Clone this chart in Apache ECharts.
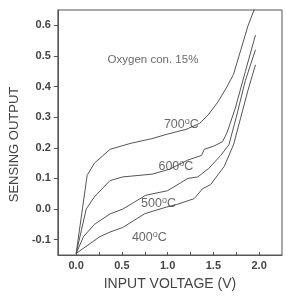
<!DOCTYPE html>
<html>
<head>
<meta charset="utf-8">
<script src="https://cdn.jsdelivr.net/npm/echarts@6/dist/echarts.min.js"></script>
<style>
  html, body { margin: 0; padding: 0; background: #fff; }
  #chart { width: 286px; height: 296px; }
</style>
</head>
<body>
<div id="chart"></div>
<script>
// sensing output vs input voltage
const curve700 = [[0, -0.145], [0.12, 0.11], [0.2, 0.15], [0.37, 0.195], [0.6, 0.215], [0.83, 0.23], [1.0, 0.245], [1.2, 0.26], [1.35, 0.28], [1.45, 0.31], [1.55, 0.35], [1.65, 0.40], [1.72, 0.44], [1.8, 0.52], [1.88, 0.6], [1.97, 0.67]]
const curve600 = [[0, -0.145], [0.11, 0.0], [0.2, 0.04], [0.37, 0.093], [0.51, 0.105], [0.83, 0.114], [1.02, 0.13], [1.22, 0.16], [1.37, 0.175], [1.4, 0.195], [1.5, 0.205], [1.6, 0.22], [1.65, 0.25], [1.74, 0.33], [1.85, 0.45], [1.96, 0.568]]
const curve500 = [[0, -0.145], [0.08, -0.09], [0.2, -0.05], [0.37, -0.016], [0.51, 0.0], [0.76, 0.045], [1.0, 0.06], [1.22, 0.1], [1.33, 0.105], [1.45, 0.133], [1.58, 0.175], [1.67, 0.21], [1.75, 0.3], [1.85, 0.42], [1.96, 0.52]]
const curve400 = [[0, -0.145], [0.07, -0.13], [0.26, -0.09], [0.37, -0.075], [0.51, -0.06], [0.75, -0.015], [0.97, 0.005], [1.1, 0.015], [1.29, 0.034], [1.38, 0.066], [1.47, 0.08], [1.62, 0.14], [1.72, 0.21], [1.8, 0.3], [1.88, 0.39], [1.96, 0.471]]

const seriesNames = ['700', '600', '500', '400']
const seriesData = [curve700, curve600, curve500, curve400]
// where the temperature labels sit, in data units
const labelPos = [[1.15, 0.275], [1.09, 0.14], [0.9, 0.018], [0.8, -0.092]]

const xTicks = [0, 0.5, 1.0, 1.5, 2.0]
const xMinorTicks = [0, 0.25, 0.5, 0.75, 1.0, 1.25, 1.5, 1.75, 2.0]
const yTicks = [-0.1, 0, 0.1, 0.2, 0.3, 0.4, 0.5, 0.6]

const noteText = 'Oxygen con. 15%'
const notePos = [0.84, 0.486]

const ink = '#444'
const font = 'Liberation Sans, Arial, sans-serif'

const chart = echarts.init(document.getElementById('chart'), null, { renderer: 'canvas' })

function textSeries(pos, text, size) {
  return {
    type: 'scatter',
    data: [pos],
    symbolSize: 1,
    itemStyle: { color: 'rgba(0,0,0,0)' },
    silent: true,
    z: 5,
    label: {
      show: true,
      position: 'inside',
      formatter: text,
      color: ink,
      fontFamily: font,
      fontSize: size,
      rich: {
        sup: { fontSize: 9, verticalAlign: 'top', color: ink, fontFamily: font, padding: [0, 0, 6, 0] }
      }
    }
  }
}

const series = seriesNames.map((n, i) => ({
  name: n,
  type: 'line',
  data: seriesData[i],
  symbol: 'none',
  clip: true,
  lineStyle: { color: '#555', width: 1 }
}))
seriesNames.forEach((n, i) => series.push(textSeries(labelPos[i], n + '{sup|o}C', 12.5)))
series.push(textSeries(notePos, noteText, 11.5))

chart.setOption({
  animation: false,
  grid: {
    left: 54,
    right: 4,
    top: 10,
    bottom: 39,
    show: true,
    borderColor: '#555',
    borderWidth: 1
  },
  xAxis: {
    type: 'value',
    min: -0.2,
    max: 2.25,
    name: 'INPUT VOLTAGE (V)',
    nameLocation: 'middle',
    nameGap: 22,
    nameTextStyle: { fontSize: 14, color: ink, fontFamily: font },
    axisLine: { onZero: false, lineStyle: { color: '#555' } },
    axisTick: { inside: true, length: 3, customValues: xMinorTicks, lineStyle: { color: '#555' } },
    axisLabel: {
      customValues: xTicks,
      margin: 5,
      color: ink,
      fontSize: 11,
      fontWeight: 'bold',
      fontFamily: font,
      formatter: v => v.toFixed(1)
    },
    splitLine: { show: false }
  },
  yAxis: {
    type: 'value',
    min: -0.15,
    max: 0.65,
    name: 'SENSING OUTPUT',
    nameLocation: 'middle',
    nameGap: 36,
    nameTextStyle: { fontSize: 13, color: ink, fontFamily: font, padding: [0, 24, 0, 0] },
    axisLine: { onZero: false, lineStyle: { color: '#555' } },
    axisTick: { inside: false, length: 4, customValues: yTicks, lineStyle: { color: '#555' } },
    axisLabel: {
      customValues: yTicks,
      margin: 7,
      color: ink,
      fontSize: 11,
      fontWeight: 'bold',
      fontFamily: font,
      formatter: v => v.toFixed(1)
    },
    splitLine: { show: false }
  },
  series: series
})
</script>
</body>
</html>
